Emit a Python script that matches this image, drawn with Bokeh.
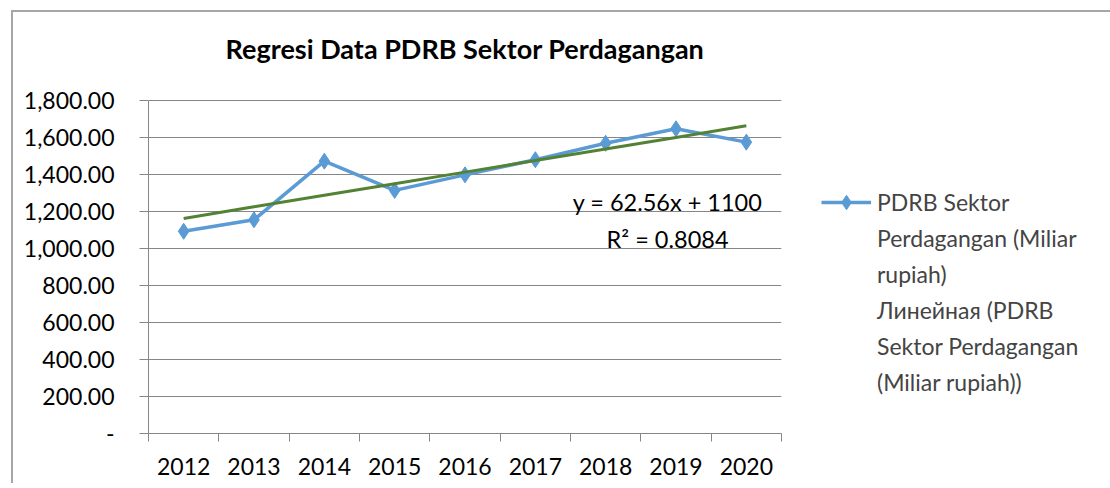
from bokeh.plotting import figure
from bokeh.models import (FixedTicker, NumeralTickFormatter, Legend, LegendItem,
                          Label, Range1d, ColumnDataSource)
from bokeh.embed import file_html
from bokeh.resources import INLINE

# ---- data ----
years = ["2012", "2013", "2014", "2015", "2016", "2017", "2018", "2019", "2020"]
pdrb = [1093, 1155, 1472, 1314, 1398, 1480, 1569, 1647, 1575]
trend_slope = 62.56
trend_intercept = 1100
r_squared = 0.8084
y_ticks = [0, 200, 400, 600, 800, 1000, 1200, 1400, 1600, 1800]

series_label_lines = ["PDRB Sektor", "Perdagangan (Miliar", "rupiah)"]
trend_label_lines = ["Линейная (PDRB", "Sektor Perdagangan", "(Miliar rupiah))"]
title_text = "Regresi Data PDRB Sektor Perdagangan"

n = len(years)
xs = [i + 0.5 for i in range(n)]
trend = [trend_slope * (i + 1) + trend_intercept for i in range(n)]

FONT = "Lato"
GRAY = "#868686"
BLUE = "#5b9bd5"
GREEN = "#548235"

# layout: plot area 333 px tall for 0..1800; the frame extends above it to
# host the chart title (Excel-style title inside the chart box)
PLOT_H = 333
FRAME_H = 421
y_top = y_ticks[-1] * FRAME_H / PLOT_H

src = ColumnDataSource(dict(x=xs, y=pdrb, t=trend))

p = figure(frame_width=633, frame_height=FRAME_H, x_range=Range1d(0, n),
           y_range=Range1d(0, y_top),
           output_backend="svg", toolbar_location=None,
           min_border_left=135, min_border_right=0, min_border_top=0,
           min_border_bottom=50)
p.styles = {"border-left": "2px solid #a6a6a6", "border-top": "2px solid #a6a6a6",
            "margin-left": "11px", "margin-top": "10px"}
p.outline_line_color = None
p.background_fill_color = "white"
p.border_fill_color = "white"

title = Label(x=n / 2, y=FRAME_H - 36, x_units="data", y_units="screen",
              text=title_text, text_font=FONT, text_font_style="bold",
              text_font_size="27px", text_align="center", text_baseline="middle",
              text_color="black")
p.add_layout(title)

# axes
yax = p.yaxis[0]
yax.ticker = FixedTicker(ticks=y_ticks, minor_ticks=[])
yax.bounds = (y_ticks[0], y_ticks[-1])
yax.formatter = NumeralTickFormatter(format="0,0.00")
yax.major_label_overrides = {0: "-"}
yax.axis_line_color = GRAY
yax.major_tick_line_color = GRAY
yax.major_tick_out = 9
yax.major_tick_in = 0
yax.minor_tick_line_color = None
yax.major_label_text_font = FONT
yax.major_label_text_font_size = "23px"
yax.major_label_text_color = "black"
yax.major_label_standoff = 25

xax = p.xaxis[0]
xax.ticker = FixedTicker(ticks=xs, minor_ticks=list(range(n + 1)))
xax.major_label_overrides = {x: yr for x, yr in zip(xs, years)}
xax.axis_line_color = GRAY
xax.major_tick_line_color = None
xax.major_tick_out = 0
xax.major_tick_in = 0
xax.minor_tick_line_color = GRAY
xax.minor_tick_out = 8
xax.minor_tick_in = 0
xax.major_label_text_font = FONT
xax.major_label_text_font_size = "23px"
xax.major_label_text_color = "black"
xax.major_label_standoff = 16

p.xgrid.visible = False
p.ygrid.ticker = FixedTicker(ticks=y_ticks, minor_ticks=[])
p.ygrid.grid_line_color = GRAY
p.ygrid.grid_line_width = 1

# series
l1 = p.line("x", "y", source=src, line_color=BLUE, line_width=3.5)
s1 = p.scatter("x", "y", source=src, marker="diamond", size=16, fill_color=BLUE,
               line_color=BLUE)
tl = p.line("x", "t", source=src, line_color=GREEN, line_width=3)
# legend proxies: Excel shows the trendline key as a thin black line
proxy = p.line(x=[], y=[], line_color="black", line_width=1)
blank = p.line(x=[], y=[], line_alpha=0)

eq = Label(x=7.38, y=1254, text=f"y = {trend_slope}x + {trend_intercept}",
           text_font=FONT, text_font_size="23.5px", text_align="center",
           text_baseline="middle", text_color="black")
r2 = Label(x=7.38, y=1054, text=f"R² = {r_squared}",
           text_font=FONT, text_font_size="23.5px", text_align="center",
           text_baseline="middle", text_color="black")
p.add_layout(eq)
p.add_layout(r2)

items = [LegendItem(label=series_label_lines[0], renderers=[l1, s1])]
items += [LegendItem(label=t, renderers=[blank]) for t in series_label_lines[1:]]
items += [LegendItem(label=trend_label_lines[0], renderers=[proxy])]
items += [LegendItem(label=t, renderers=[blank]) for t in trend_label_lines[1:]]

legend = Legend(items=items, location=(40, 33), border_line_color=None,
                background_fill_alpha=0,
                label_text_font=FONT, label_text_font_size="23px",
                glyph_width=50, glyph_height=36, label_height=36, spacing=0,
                padding=0, margin=0, label_standoff=6)
p.add_layout(legend, "right")

open("out.html", "w").write(file_html(p, INLINE))
